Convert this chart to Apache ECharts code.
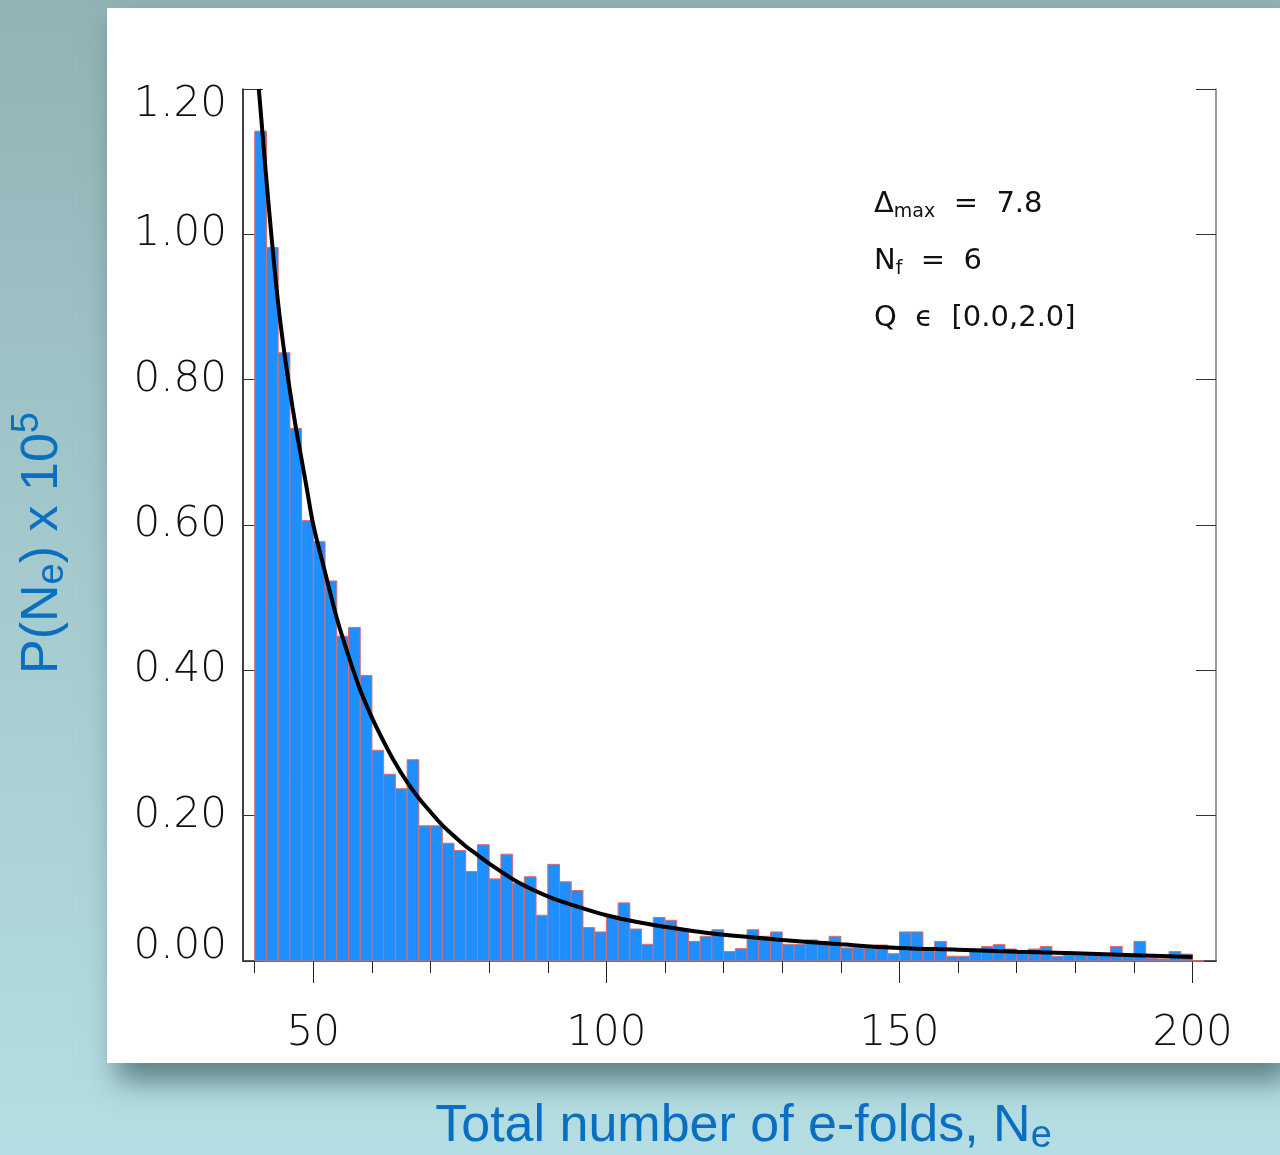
<!DOCTYPE html>
<html>
<head>
<meta charset="utf-8">
<title>P(Ne) histogram</title>
<script src="https://cdn.jsdelivr.net/npm/echarts@6/dist/echarts.min.js"></script>
<style>
html, body { margin: 0; padding: 0; }
body {
    width: 1280px; height: 1155px; position: relative; overflow: hidden;
    background: linear-gradient(180deg, #90b3b5 0%, #a3c8cb 45%, #b4dee3 100%);
}
#panel {
    position: absolute; left: 107px; top: 8px; width: 1173px; height: 1055px;
    background: #fff;
    box-shadow: 10px 18px 26px rgba(40, 70, 70, 0.6);
}
#chart { position: absolute; left: 0; top: 0; width: 1280px; height: 1155px; }
</style>
</head>
<body>
<div id="panel"></div>
<div id="chart"></div>
<script>
// left edge of each histogram bin (bins are 2 e-folds wide)
var binLeft = [40, 42, 44, 46, 48, 50, 52, 54, 56, 58,
    60, 62, 64, 66, 68, 70, 72, 74, 76, 78,
    80, 82, 84, 86, 88, 90, 92, 94, 96, 98,
    100, 102, 104, 106, 108, 110, 112, 114, 116, 118,
    120, 122, 124, 126, 128, 130, 132, 134, 136, 138,
    140, 142, 144, 146, 148, 150, 152, 154, 156, 158,
    160, 162, 164, 166, 168, 170, 172, 174, 176, 178,
    180, 182, 184, 186, 188, 190, 192, 194, 196, 198, 200]
var binWidth = 2
// P(Ne) x 10^5 per bin
var binValue = [1.142, 0.982, 0.837, 0.733, 0.606, 0.577, 0.523, 0.447, 0.459, 0.393,
    0.290, 0.257, 0.237, 0.277, 0.186, 0.186, 0.162, 0.152, 0.123, 0.160,
    0.113, 0.147, 0.107, 0.116, 0.063, 0.133, 0.109, 0.097, 0.046, 0.040,
    0.062, 0.080, 0.044, 0.023, 0.060, 0.056, 0.044, 0.027, 0.034, 0.043,
    0.013, 0.017, 0.043, 0.034, 0.040, 0.023, 0.023, 0.029, 0.027, 0.034,
    0.018, 0.018, 0.018, 0.022, 0.010, 0.040, 0.040, 0.014, 0.027, 0.0065,
    0.0065, 0.0165, 0.020, 0.0225, 0.0165, 0.012, 0.0165, 0.020, 0.0065, 0.008,
    0.008, 0.008, 0.008, 0.020, 0.008, 0.027, 0.004, 0.003, 0.013, 0.0095, 0]

// fitted curve
var fitN = [40.7, 42, 43, 44, 45, 46, 47, 48, 49, 50, 52, 54, 56, 58, 60, 62, 64, 66, 68, 70,
    72, 74, 76, 78, 80, 85, 90, 95, 100, 105, 110, 115, 120, 130, 140, 150, 160, 170, 180, 190, 200]
var fitP = [1.200, 1.075, 0.985, 0.905, 0.840, 0.785, 0.735, 0.690, 0.645, 0.600, 0.535, 0.472, 0.420, 0.373,
    0.335, 0.302, 0.272, 0.246, 0.224, 0.205, 0.187, 0.172, 0.158, 0.146, 0.134, 0.108, 0.089, 0.075,
    0.063, 0.054, 0.047, 0.041, 0.036, 0.029, 0.023, 0.018, 0.0155, 0.0128, 0.0105, 0.0080, 0.0055]

var xMajor = [50, 100, 150, 200]
var xMinor = [40, 60, 70, 80, 90, 110, 120, 130, 140, 160, 170, 180, 190]

var FONT = 'DejaVu Sans'
var BLUE = '#0a6fc0'

var histData = binLeft.map(function (l, i) { return [l, l + binWidth, binValue[i]] })
var fitData = fitN.map(function (n, i) { return [n, fitP[i]] })

var chart = echarts.init(document.getElementById('chart'))
chart.setOption({
    backgroundColor: 'transparent',
    animation: false,
    grid: { left: 243, top: 89, width: 973, height: 872, outerBoundsMode: 'none' },
    xAxis: [{
        type: 'value', position: 'bottom', min: 38, max: 204,
        axisLine: { lineStyle: { color: '#222', width: 1.5 } },
        axisTick: { length: 22, customValues: xMajor, lineStyle: { color: '#222' } },
        axisLabel: { customValues: xMajor, margin: 52, fontSize: 42, fontWeight: 300, fontFamily: FONT, color: '#111' },
        splitLine: { show: false },
        name: 'Total number of e-folds, N{sub|e}',
        nameLocation: 'middle', nameGap: 134,
        nameTextStyle: {
            color: BLUE, fontSize: 52, fontFamily: 'Liberation Sans', lineHeight: 64,
            padding: [0, 0, 0, 28],
            rich: { sub: { color: BLUE, fontSize: 38, fontFamily: 'Liberation Sans', padding: [20, 0, 0, 0] } }
        }
    }, {
        type: 'value', position: 'top', min: 38, max: 204,
        axisLine: { lineStyle: { color: '#555', width: 1.5 } },
        axisTick: { inside: true, length: 18, customValues: xMajor, lineStyle: { color: '#222' } },
        axisLabel: { show: false },
        splitLine: { show: false }
    }, {
        type: 'value', position: 'bottom', min: 38, max: 204,
        axisLine: { show: false },
        axisTick: { length: 12, customValues: xMinor, lineStyle: { color: '#222' } },
        axisLabel: { show: false },
        splitLine: { show: false }
    }],
    yAxis: [{
        type: 'value', position: 'left', min: 0, max: 1.2, interval: 0.2,
        axisLine: { show: true, lineStyle: { color: '#000', width: 1.5 } },
        axisTick: { show: true, inside: true, length: 20, lineStyle: { color: '#333' } },
        axisLabel: {
            margin: 16, fontSize: 42, fontWeight: 300, fontFamily: FONT, color: '#111',
            formatter: function (v) {
                var s = v.toFixed(2)
                if (v > 1.19) return '{top|' + s + '}'
                if (v === 0) return '{bot|' + s + '}'
                return s
            },
            rich: {
                top: { fontSize: 42, fontWeight: 300, fontFamily: FONT, color: '#111', padding: [32, 0, 0, 0] },
                bot: { fontSize: 42, fontWeight: 300, fontFamily: FONT, color: '#111', padding: [0, 0, 28, 0] }
            }
        },
        splitLine: { show: false },
        name: 'P(N{sub|e}) x 10{sup|5}',
        nameLocation: 'middle', nameGap: 168,
        nameTextStyle: {
            color: BLUE, fontSize: 52, fontFamily: 'Liberation Sans', lineHeight: 64,
            padding: [0, 36, 0, 0],
            rich: {
                sub: { color: BLUE, fontSize: 38, fontFamily: 'Liberation Sans', padding: [20, 0, 0, 0] },
                sup: { color: BLUE, fontSize: 38, fontFamily: 'Liberation Sans', padding: [0, 0, 30, 0] }
            }
        }
    }, {
        type: 'value', position: 'right', min: 0, max: 1.2, interval: 0.2,
        axisLine: { show: true, lineStyle: { color: '#777', width: 1.5 } },
        axisTick: { show: true, inside: true, length: 20, lineStyle: { color: '#333' } },
        axisLabel: { show: false },
        splitLine: { show: false }
    }],
    graphic: [{
        type: 'text', left: 874, top: 190, z: 10,
        style: {
            text: '{a|Δ}{s|max}{a|  =  7.8}',
            rich: {
                a: { fontSize: 29, fontFamily: FONT, fill: '#111', color: '#111' },
                s: { fontSize: 19, fontFamily: FONT, fill: '#111', color: '#111', padding: [16, 0, 0, 0] }
            }
        }
    }, {
        type: 'text', left: 874, top: 247, z: 10,
        style: {
            text: '{a|N}{s|f}{a|  =  6}',
            rich: {
                a: { fontSize: 29, fontFamily: FONT, fill: '#111', color: '#111' },
                s: { fontSize: 19, fontFamily: FONT, fill: '#111', color: '#111', padding: [16, 0, 0, 0] }
            }
        }
    }, {
        type: 'text', left: 874, top: 304, z: 10,
        style: {
            text: 'Q  ϵ  [0.0,2.0]',
            fontSize: 29, fontFamily: FONT, fill: '#111'
        }
    }],
    series: [{
        type: 'custom',
        name: 'histogram',
        xAxisIndex: 0, yAxisIndex: 0,
        renderItem: function (params, api) {
            var p0 = api.coord([api.value(0), api.value(2)])
            var p1 = api.coord([api.value(1), 0])
            return {
                type: 'rect',
                shape: { x: p0[0], y: p0[1], width: p1[0] - p0[0], height: p1[1] - p0[1] },
                style: { fill: '#1f8fff', stroke: '#e06a6a', lineWidth: 1 }
            }
        },
        encode: { x: [0, 1], y: 2 },
        data: histData
    }, {
        type: 'line',
        name: 'fit',
        xAxisIndex: 0, yAxisIndex: 0,
        data: fitData,
        symbol: 'none',
        smooth: 0.4,
        lineStyle: { color: '#000', width: 4 },
        z: 5
    }]
})
</script>
</body>
</html>
